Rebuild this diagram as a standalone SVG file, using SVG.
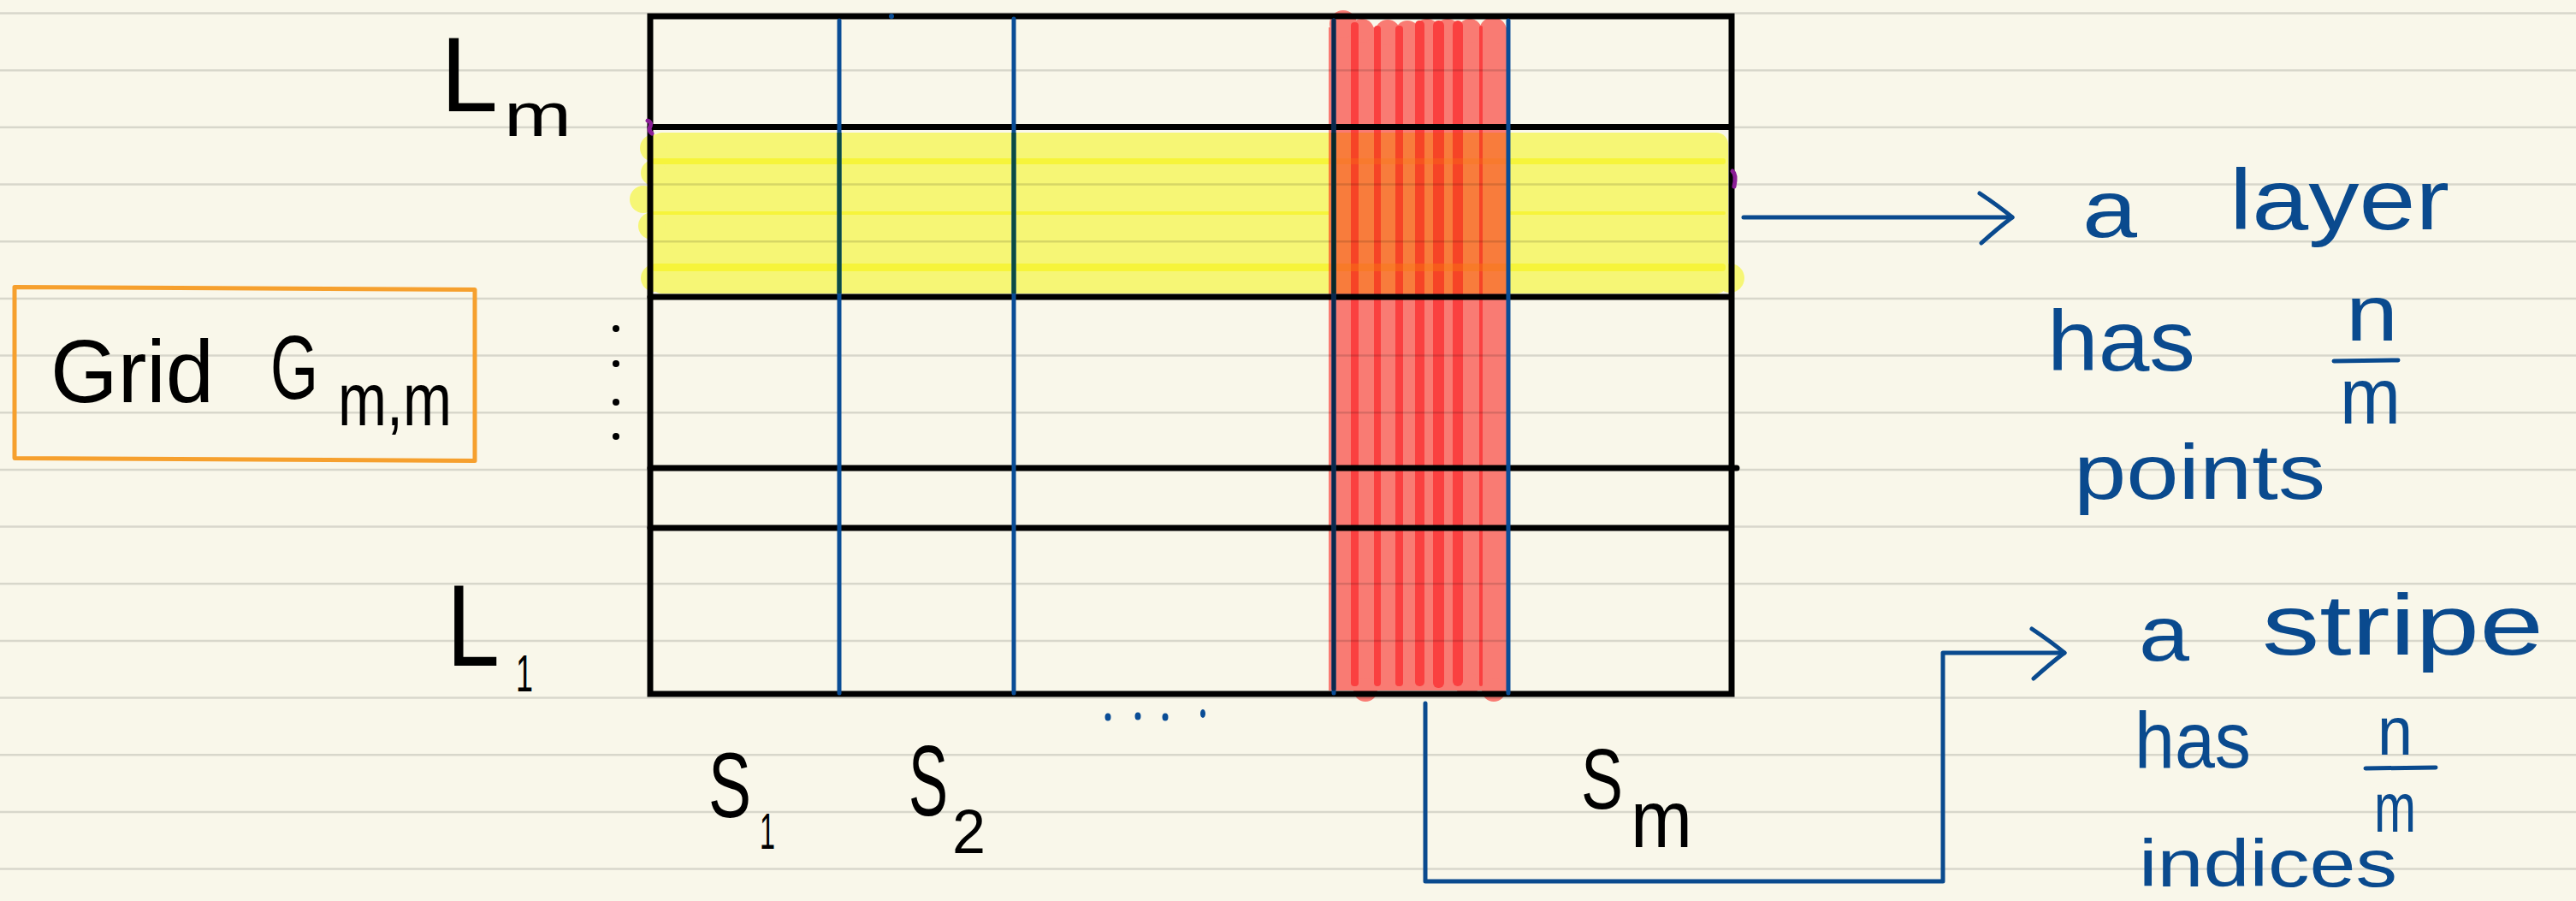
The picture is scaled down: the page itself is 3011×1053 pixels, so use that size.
<svg xmlns="http://www.w3.org/2000/svg" width="3011" height="1053" viewBox="0 0 3011 1053">
<style>
.rule{stroke:#000;stroke-opacity:0.13;stroke-width:2.5}
.yel{fill:#F6F675}
.yeld{fill:#F6F43A}
.red{fill:#F97B73}
.redd{fill:#FA4040}
.org{fill:#F87C3C}
.orgd{fill:#F64426}
.orgy{fill:#F9780F}
.gl{stroke:#000;stroke-width:7;stroke-linecap:round;fill:none}
.bl{stroke:#0A4D96;stroke-width:5;stroke-linecap:round;fill:none}
.hw{font-family:"Liberation Sans",Arial,sans-serif}
.k{fill:#000}
.b{fill:#0A4A8E}
.conn{stroke:#0A4A8E;stroke-width:5;fill:none;stroke-linecap:round;stroke-linejoin:round}
.bar{stroke:#0A4A8E;stroke-width:5;stroke-linecap:round}
</style>
<defs>
<marker id="chev" markerUnits="userSpaceOnUse" viewBox="-50 -40 60 80" markerWidth="60" markerHeight="80" refX="0" refY="0" orient="auto">
<path d="M-38,-28 Q-14,-12 0,0 Q-16,12 -36,30" fill="none" stroke="#0A4A8E" stroke-width="5" stroke-linecap="round" stroke-linejoin="round"/>
</marker>
</defs>
<rect width="3011" height="1053" fill="#F9F7EA"/>

<g id="layer-highlight">
<rect class="yel" x="760" y="155" width="1260" height="188" rx="14"/>
<circle class="yel" cx="764" cy="173" r="16"/>
<circle class="yel" cx="764" cy="202" r="15"/>
<circle class="yel" cx="752" cy="233" r="16"/>
<circle class="yel" cx="762" cy="264" r="16"/>
<circle class="yel" cx="772" cy="297" r="15"/>
<circle class="yel" cx="765" cy="325" r="16"/>
<circle class="yel" cx="2022" cy="325" r="17"/>
<rect class="yeld" x="762" y="185" width="1255" height="7" rx="3"/>
<rect class="yeld" x="762" y="247" width="1255" height="4" rx="2"/>
<rect class="yeld" x="762" y="308" width="1255" height="9" rx="4"/>
</g>

<g id="stripe-highlight">
<rect class="red" x="1553" y="32" width="208" height="775"/>
<circle class="red" cx="1570" cy="28" r="16"/>
<circle class="red" cx="1592" cy="36" r="14"/>
<circle class="red" cx="1622" cy="38" r="15"/>
<circle class="red" cx="1645" cy="38" r="14"/>
<circle class="red" cx="1668" cy="36" r="14"/>
<circle class="red" cx="1692" cy="36" r="14"/>
<circle class="red" cx="1718" cy="36" r="14"/>
<circle class="red" cx="1745" cy="36" r="16"/>
<circle class="red" cx="1596" cy="806" r="14"/>
<circle class="red" cx="1746" cy="806" r="14"/>
<circle class="red" cx="1715" cy="800" r="14"/>
<rect class="redd" x="1579" y="26" width="9" height="776" rx="4"/>
<rect class="redd" x="1606" y="30" width="8" height="772" rx="4"/>
<rect class="redd" x="1631" y="30" width="9" height="772" rx="4"/>
<rect class="redd" x="1654" y="24" width="11" height="778" rx="5"/>
<rect class="redd" x="1675" y="24" width="13" height="780" rx="6"/>
<rect class="redd" x="1698" y="24" width="12" height="778" rx="6"/>
<rect class="redd" x="1729" y="30" width="4" height="772" rx="2"/>
<rect class="org" x="1553" y="155" width="208" height="188"/>
<rect class="orgd" x="1579" y="155" width="9" height="188"/>
<rect class="orgd" x="1606" y="155" width="8" height="188"/>
<rect class="orgd" x="1631" y="155" width="9" height="188"/>
<rect class="orgd" x="1654" y="155" width="11" height="188"/>
<rect class="orgd" x="1675" y="155" width="13" height="188"/>
<rect class="orgd" x="1698" y="155" width="12" height="188"/>
<rect class="orgd" x="1729" y="155" width="4" height="188"/>
<rect class="orgy" x="1553" y="185" width="208" height="7" opacity="0.3"/>
<rect class="orgy" x="1553" y="308" width="208" height="9" opacity="0.45"/>
</g>

<g id="ruling">
<line class="rule" x1="0" y1="15.5" x2="3011" y2="15.5"/>
<line class="rule" x1="0" y1="82.2" x2="3011" y2="82.2"/>
<line class="rule" x1="0" y1="148.8" x2="3011" y2="148.8"/>
<line class="rule" x1="0" y1="215.5" x2="3011" y2="215.5"/>
<line class="rule" x1="0" y1="282.2" x2="3011" y2="282.2"/>
<line class="rule" x1="0" y1="348.9" x2="3011" y2="348.9"/>
<line class="rule" x1="0" y1="415.5" x2="3011" y2="415.5"/>
<line class="rule" x1="0" y1="482.2" x2="3011" y2="482.2"/>
<line class="rule" x1="0" y1="548.9" x2="3011" y2="548.9"/>
<line class="rule" x1="0" y1="615.5" x2="3011" y2="615.5"/>
<line class="rule" x1="0" y1="682.2" x2="3011" y2="682.2"/>
<line class="rule" x1="0" y1="748.9" x2="3011" y2="748.9"/>
<line class="rule" x1="0" y1="815.5" x2="3011" y2="815.5"/>
<line class="rule" x1="0" y1="882.2" x2="3011" y2="882.2"/>
<line class="rule" x1="0" y1="948.9" x2="3011" y2="948.9"/>
<line class="rule" x1="0" y1="1015.5" x2="3011" y2="1015.5"/>
</g>

<g id="grid">
<rect class="gl" x="760" y="19" width="1264" height="792"/>
<line class="gl" x1="760" y1="148.5" x2="2022" y2="148.5"/>
<line class="gl" x1="760" y1="347" x2="2022" y2="347"/>
<line class="gl" x1="760" y1="547" x2="2030" y2="547"/>
<line class="gl" x1="760" y1="617" x2="2022" y2="617"/>
<line class="bl" x1="981" y1="24" x2="981" y2="810"/>
<line class="bl" x1="1185" y1="22" x2="1185" y2="810"/>
<line class="bl" x1="1559" y1="24" x2="1559" y2="810"/>
<line class="bl" x1="1763" y1="24" x2="1763" y2="810"/>
<line x1="981" y1="155" x2="981" y2="343" stroke="#0A4A45" stroke-width="5"/>
<line x1="1185" y1="155" x2="1185" y2="343" stroke="#0A4A45" stroke-width="5"/>
<line x1="1559" y1="24" x2="1559" y2="805" stroke="#0B2A4E" stroke-width="5" stroke-linecap="round"/>
<line x1="1559" y1="155" x2="1559" y2="343" stroke="#0A2A2A" stroke-width="5"/>
<circle cx="1042" cy="19" r="3" fill="#0A4D96"/>
<path d="M757,141 Q763,143 759,150 Q759,154 762,156" stroke="#8B1E96" stroke-width="5" fill="none" stroke-linecap="round"/>
<path d="M2025,200 Q2030,204 2027,218" stroke="#8B1E96" stroke-width="5" fill="none" stroke-linecap="round"/>
</g>

<g id="label-grid">
<path d="M17,335.5 L555,338.5 L555,538.5 L17,535.5 Z" fill="none" stroke="#F6A02E" stroke-width="5" stroke-linejoin="round"/>
<text class="hw k" x="59" y="470" font-size="104" textLength="191" lengthAdjust="spacingAndGlyphs">Grid</text>
<text class="hw k" x="316" y="466" font-size="106" textLength="56" lengthAdjust="spacingAndGlyphs">G</text>
<text class="hw k" x="395" y="497" font-size="88" textLength="133" lengthAdjust="spacingAndGlyphs">m,m</text>
</g>

<g id="label-Lm">
<text class="hw k" x="515" y="130" font-size="125" textLength="67" lengthAdjust="spacingAndGlyphs">L</text>
<text class="hw k" x="589" y="159" font-size="72" textLength="79" lengthAdjust="spacingAndGlyphs">m</text>
</g>

<g id="label-vdots" fill="#000">
<circle cx="720" cy="384" r="4"/>
<circle cx="720" cy="425" r="4"/>
<circle cx="720" cy="470" r="4"/>
<circle cx="720" cy="510" r="4"/>
</g>

<g id="label-L1">
<text class="hw k" x="522" y="778" font-size="135" textLength="62" lengthAdjust="spacingAndGlyphs">L</text>
<text class="hw k" x="603" y="808" font-size="62" textLength="20" lengthAdjust="spacingAndGlyphs">1</text>
</g>

<g id="label-S1">
<text class="hw k" transform="translate(828,955) scale(1,1.44)" font-size="75">S</text>
<text class="hw k" x="888" y="992" font-size="60" textLength="18" lengthAdjust="spacingAndGlyphs">1</text>
</g>

<g id="label-S2">
<text class="hw k" transform="translate(1062,953) scale(1,1.7)" font-size="69">S</text>
<text class="hw k" x="1113" y="997" font-size="72" textLength="39" lengthAdjust="spacingAndGlyphs">2</text>
</g>

<g id="label-hdots" fill="#0A4D96">
<ellipse cx="1295" cy="838" rx="3.5" ry="4.5"/>
<ellipse cx="1330" cy="837" rx="3.5" ry="4.5"/>
<ellipse cx="1362" cy="838" rx="3.5" ry="4.5"/>
<ellipse cx="1406" cy="834" rx="3" ry="5"/>
</g>

<g id="label-Sm">
<text class="hw k" x="1848" y="945" font-size="100" textLength="49" lengthAdjust="spacingAndGlyphs">S</text>
<text class="hw k" x="1906" y="990" font-size="95" textLength="72" lengthAdjust="spacingAndGlyphs">m</text>
</g>

<g id="connectors">
<path class="conn" d="M2038,254 H2352" marker-end="url(#chev)"/>
<path class="conn" d="M1666,822 V1030 H2271 V763 H2413" marker-end="url(#chev)"/>
</g>

<g id="note-layer">
<text class="hw b" x="2434" y="277" font-size="94" textLength="64" lengthAdjust="spacingAndGlyphs">a</text>
<text class="hw b" x="2606" y="268" font-size="100" textLength="257" lengthAdjust="spacingAndGlyphs">layer</text>
<text class="hw b" x="2393" y="433" font-size="100" textLength="173" lengthAdjust="spacingAndGlyphs">has</text>
<text class="hw b" x="2742" y="398" font-size="92" textLength="61" lengthAdjust="spacingAndGlyphs">n</text>
<line class="bar" x1="2728" y1="422" x2="2803" y2="421"/>
<text class="hw b" x="2735" y="495" font-size="92" textLength="71" lengthAdjust="spacingAndGlyphs">m</text>
<text class="hw b" x="2424" y="583" font-size="90" textLength="294" lengthAdjust="spacingAndGlyphs">points</text>
</g>

<g id="note-stripe">
<text class="hw b" x="2500" y="772" font-size="90" textLength="59" lengthAdjust="spacingAndGlyphs">a</text>
<text class="hw b" x="2644" y="765" font-size="100" textLength="329" lengthAdjust="spacingAndGlyphs">stripe</text>
<text class="hw b" x="2495" y="897" font-size="92" textLength="136" lengthAdjust="spacingAndGlyphs">has</text>
<text class="hw b" x="2779" y="882" font-size="80" textLength="41" lengthAdjust="spacingAndGlyphs">n</text>
<line class="bar" x1="2765" y1="898" x2="2847" y2="897"/>
<text class="hw b" x="2775" y="972" font-size="82" textLength="49" lengthAdjust="spacingAndGlyphs">m</text>
<text class="hw b" x="2500" y="1036" font-size="78" textLength="302" lengthAdjust="spacingAndGlyphs">indices</text>
</g>
</svg>
